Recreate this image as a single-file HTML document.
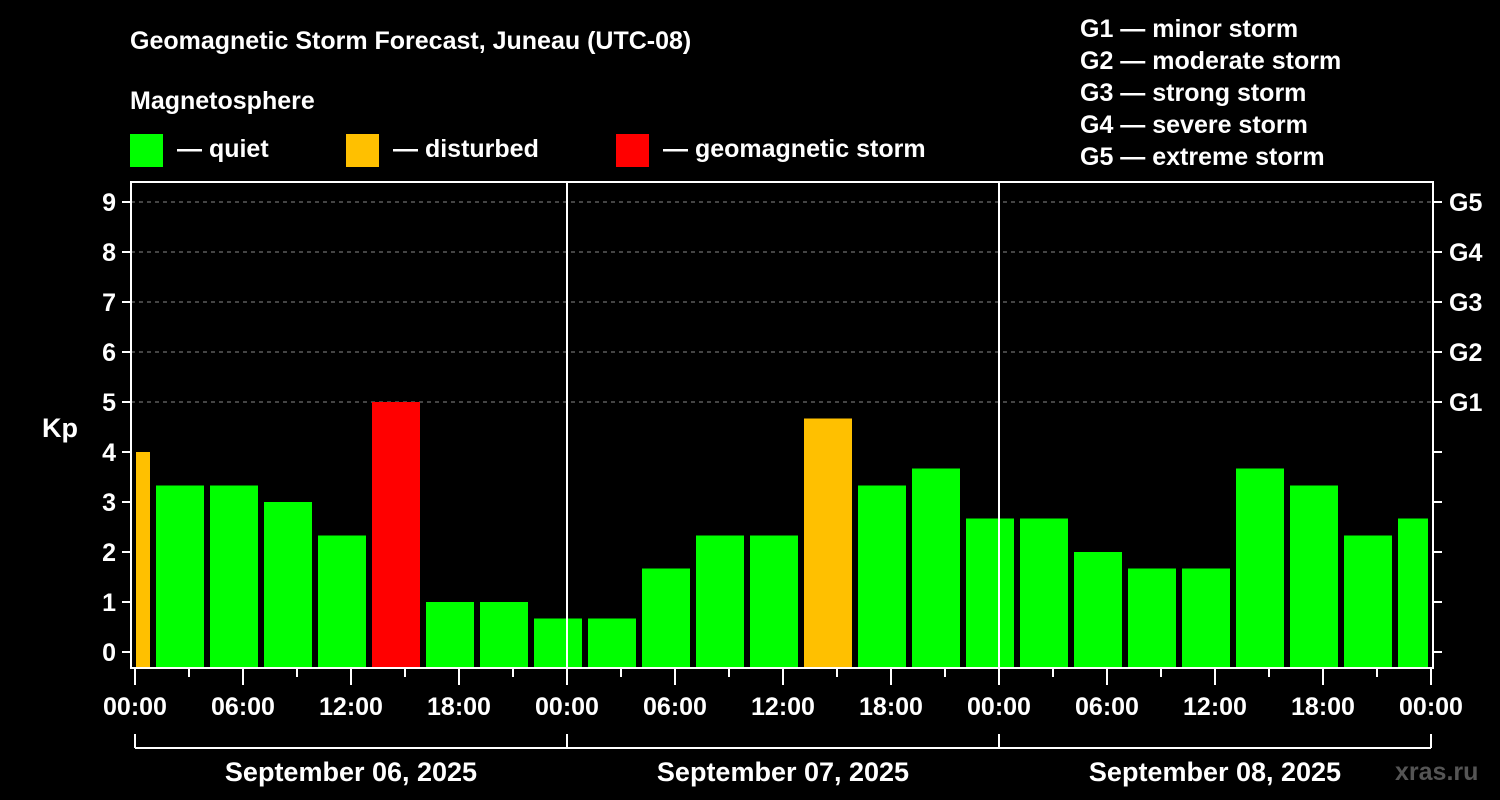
<!DOCTYPE html>
<html><head><meta charset="utf-8"><style>
html,body{margin:0;padding:0;background:#000;}
svg{display:block;font-family:"Liberation Sans",Arial,sans-serif;font-weight:bold;}
</style></head><body>
<svg width="1500" height="800" viewBox="0 0 1500 800">
<rect width="1500" height="800" fill="#000"/>
<text x="130" y="49" fill="#fff" font-size="25">Geomagnetic Storm Forecast, Juneau (UTC-08)</text>
<text x="130" y="109" fill="#fff" font-size="25">Magnetosphere</text>
<g><rect x="130" y="134" width="33" height="33" fill="#00ff00"/><text x="177" y="157" fill="#fff" font-size="25">— quiet</text></g>
<g><rect x="346" y="134" width="33" height="33" fill="#ffc000"/><text x="393" y="157" fill="#fff" font-size="25">— disturbed</text></g>
<g><rect x="616" y="134" width="33" height="33" fill="#ff0000"/><text x="663" y="157" fill="#fff" font-size="25">— geomagnetic storm</text></g>
<g fill="#fff" font-size="25">
<text x="1080" y="37">G1 — minor storm</text>
<text x="1080" y="69">G2 — moderate storm</text>
<text x="1080" y="101">G3 — strong storm</text>
<text x="1080" y="133">G4 — severe storm</text>
<text x="1080" y="165">G5 — extreme storm</text>
</g>
<text x="42" y="437" fill="#fff" font-size="27">Kp</text>
<text x="1395" y="780" fill="#555" font-size="25">xras.ru</text>
<g id="chart"></g>
</svg>
<script>
const kpValues=[4.0,3.33,3.33,3.0,2.33,5.0,1.0,1.0,0.67,0.67,1.67,2.33,2.33,4.67,3.33,3.67,2.67,2.67,2.0,1.67,1.67,3.67,3.33,2.33,2.67];
const yTicks=[0,1,2,3,4,5,6,7,8,9];
const gLabels=["G1","G2","G3","G4","G5"];
const xTickLabels=["00:00","06:00","12:00","18:00","00:00","06:00","12:00","18:00","00:00","06:00","12:00","18:00","00:00"];
const dayLabels=["September 06, 2025","September 07, 2025","September 08, 2025"];

const NS="http://www.w3.org/2000/svg";
const g=document.getElementById('chart');
const X0=135,PXH=18,L=131,R=1433,T=182,B=668;
const xh=h=>X0+h*PXH;
const y=v=>652-v*50;
function mk(tag,at){const e=document.createElementNS(NS,tag);for(const k in at)e.setAttribute(k,at[k]);g.appendChild(e);return e;}
// grid
for(let k=5;k<=9;k++){const e=mk('line',{x1:L,x2:R,y1:y(k),y2:y(k),stroke:'#888','stroke-dasharray':'4,4','stroke-width':1});

}
// bars
kpValues.forEach((v,i)=>{
 let h0=i===0?0:1+3*(i-1),h1=i===0?1:h0+3;h1=Math.min(h1,72);
 let x1=xh(h0)+3,x2=xh(h1)-3; if(i===0){x1=xh(0)+1;}
 const col=v>=5?'#ff0000':(v>=4?'#ffc000':'#00ff00');
 const e=mk('rect',{x:x1,y:y(v),width:x2-x1,height:B-y(v),fill:col});
 
 
});
// day separators
[24,48].forEach(h=>{const e=mk('line',{x1:xh(h),x2:xh(h),y1:T,y2:B,stroke:'#fff','stroke-width':2});

});
// frame
const fr=mk('rect',{x:L,y:T,width:R-L,height:B-T,fill:'none',stroke:'#fff','stroke-width':2});


// y ticks
yTicks.forEach(k=>{
 mk('line',{x1:122,x2:L,y1:y(k),y2:y(k),stroke:'#fff','stroke-width':2});
 mk('line',{x1:R,x2:1442,y1:y(k),y2:y(k),stroke:'#fff','stroke-width':2});
 const t=mk('text',{x:116,y:y(k)+9,fill:'#fff','font-size':25,'text-anchor':'end'});t.textContent=k;
 
 
});
gLabels.forEach((s,i)=>{const t=mk('text',{x:1449,y:y(5+i)+9,fill:'#fff','font-size':25});t.textContent=s;

});
// x ticks
for(let h=0;h<=72;h+=3){const long=h%6===0;mk('line',{x1:xh(h),x2:xh(h),y1:B,y2:long?685:677,stroke:'#fff','stroke-width':2});}
xTickLabels.forEach((s,i)=>{const t=mk('text',{x:xh(i*6),y:715,fill:'#fff','font-size':25,'text-anchor':'middle'});t.textContent=s;

});
// day bracket
mk('line',{x1:xh(0),x2:xh(72),y1:748,y2:748,stroke:'#fff','stroke-width':2});
[0,24,48,72].forEach(h=>mk('line',{x1:xh(h),x2:xh(h),y1:734,y2:748,stroke:'#fff','stroke-width':2}));
dayLabels.forEach((s,i)=>{const t=mk('text',{x:xh(i*24+12),y:781,fill:'#fff','font-size':27,'text-anchor':'middle'});t.textContent=s;

});
</script>
</body></html>
